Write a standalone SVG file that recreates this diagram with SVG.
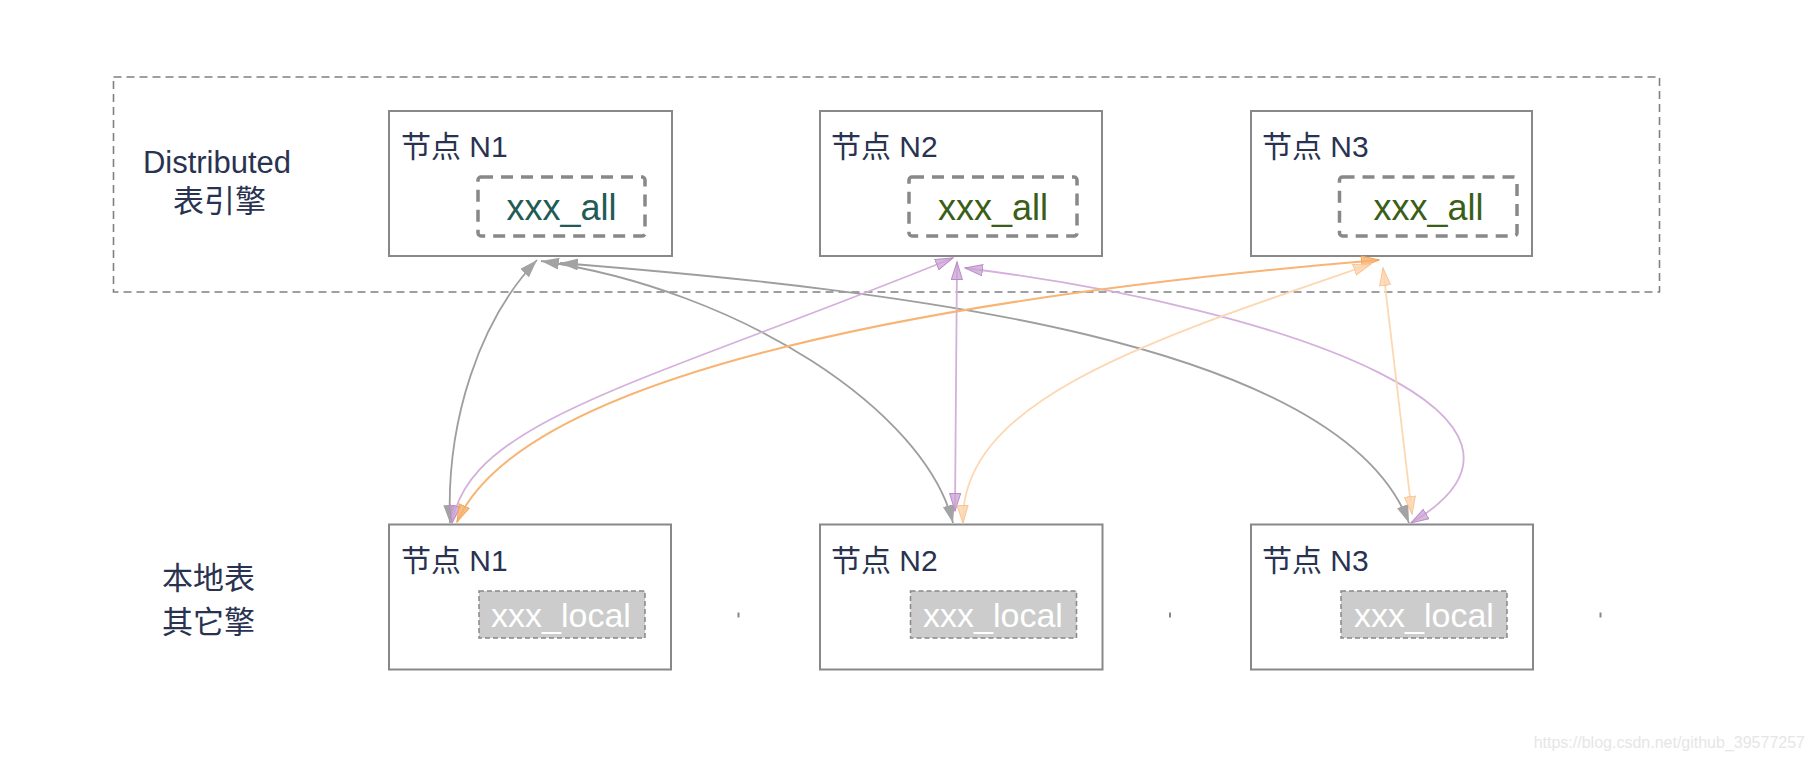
<svg xmlns="http://www.w3.org/2000/svg" width="1816" height="762" viewBox="0 0 1816 762">
  <style>
    .bg { fill: #ffffff; }
    .frame { fill: none; stroke: #808080; stroke-width: 1.6; stroke-dasharray: 8 5; }
    .node { fill: #ffffff; stroke: #888888; stroke-width: 2; }
    .allbox { fill: none; stroke: #888888; stroke-width: 3.5; stroke-dasharray: 12 8; }
    .localbox { fill: #cccccc; stroke: #888888; stroke-width: 1.5; stroke-dasharray: 5 3; }
    .lbl { font-family: "Liberation Sans", "Noto Sans CJK SC", sans-serif; fill: #293351; }
    .title { font-size: 30px; }
    .side { font-size: 31px; }
    .all { font-family: "Liberation Sans", sans-serif; font-size: 36px; text-anchor: middle; }
    .local { font-family: "Liberation Sans", sans-serif; font-size: 34px; fill: #ffffff; text-anchor: middle; }
    .tick { stroke: #888888; stroke-width: 2; }
    .c-gray { fill: none; stroke: #9e9e9e; stroke-width: 1.8; marker-start: url(#mg); marker-end: url(#mg); }
    .c-purple { fill: none; stroke: #d5b0dc; stroke-width: 1.8; marker-start: url(#mp); marker-end: url(#mp); }
    .c-orange { fill: none; stroke: #f7b474; stroke-width: 2; marker-start: url(#mo); marker-end: url(#mo); }
    .c-lorange { fill: none; stroke: #fdd7b2; stroke-width: 1.8; marker-start: url(#ml); marker-end: url(#ml); }
    .wm { font-family: "Liberation Sans", sans-serif; font-size: 16px; fill: #e6e6e6; text-anchor: end; }
  </style>
  <defs>
    <marker id="mg" markerUnits="userSpaceOnUse" markerWidth="20" markerHeight="14" refX="18" refY="6" orient="auto-start-reverse">
      <path d="M0,0 L18,6 L0,12 z" fill="#a3a3a3"/>
    </marker>
    <marker id="mp" markerUnits="userSpaceOnUse" markerWidth="20" markerHeight="14" refX="18" refY="6" orient="auto-start-reverse">
      <path d="M0.5,0.5 L18,6 L0.5,11.5 z" fill="#c9a2d4" fill-opacity="0.75" stroke="#b98cc6" stroke-width="1"/>
    </marker>
    <marker id="mo" markerUnits="userSpaceOnUse" markerWidth="20" markerHeight="14" refX="18" refY="6" orient="auto-start-reverse">
      <path d="M0.5,0.5 L18,6 L0.5,11.5 z" fill="#f6b06a" fill-opacity="0.8" stroke="#f3a55a" stroke-width="1"/>
    </marker>
    <marker id="ml" markerUnits="userSpaceOnUse" markerWidth="20" markerHeight="14" refX="18" refY="6" orient="auto-start-reverse">
      <path d="M0.5,0.5 L18,6 L0.5,11.5 z" fill="#fcd6b0" fill-opacity="0.85" stroke="#f9c493" stroke-width="1"/>
    </marker>
  </defs>
  <rect class="bg" x="0" y="0" width="1816" height="762"/>

  <g id="distributed-frame">
    <rect class="frame" x="113.5" y="77" width="1546" height="215"/>
    <text class="lbl side" x="217" y="173" text-anchor="middle">Distributed</text>
    <text class="lbl side" x="219.5" y="212" text-anchor="middle">表引擎</text>
  </g>

  <g id="local-label">
    <text class="lbl side" x="162" y="589">本地表</text>
    <text class="lbl side" x="162" y="633">其它擎</text>
  </g>

  <g id="top-n1">
    <rect class="node" x="389" y="111" width="283" height="145"/>
    <text class="lbl title" x="401" y="157">节点 N1</text>
    <rect class="allbox" x="478" y="177" width="167" height="59" rx="3"/>
    <text class="all" x="561.5" y="220" fill="#225a55">xxx_all</text>
  </g>
  <g id="top-n2">
    <rect class="node" x="820" y="111" width="282" height="145"/>
    <text class="lbl title" x="831" y="157">节点 N2</text>
    <rect class="allbox" x="909" y="177" width="168" height="59" rx="3"/>
    <text class="all" x="993" y="220" fill="#3a5e17">xxx_all</text>
  </g>
  <g id="top-n3">
    <rect class="node" x="1251" y="111" width="281" height="145"/>
    <text class="lbl title" x="1262" y="157">节点 N3</text>
    <rect class="allbox" x="1339.5" y="177" width="177.5" height="59" rx="3"/>
    <text class="all" x="1428.5" y="220" fill="#3a5e17">xxx_all</text>
  </g>

  <g id="bottom-n1">
    <rect class="node" x="389" y="524.5" width="282" height="145"/>
    <text class="lbl title" x="401" y="571">节点 N1</text>
    <rect class="localbox" x="479" y="591" width="166" height="47"/>
    <text class="local" x="561" y="627">xxx_local</text>
    <line class="tick" x1="738.5" y1="612.5" x2="738.5" y2="617.5"/>
  </g>
  <g id="bottom-n2">
    <rect class="node" x="820" y="524.5" width="282.5" height="145"/>
    <text class="lbl title" x="831" y="571">节点 N2</text>
    <rect class="localbox" x="910.5" y="591" width="166" height="47"/>
    <text class="local" x="993" y="627">xxx_local</text>
    <line class="tick" x1="1170" y1="612.5" x2="1170" y2="617.5"/>
  </g>
  <g id="bottom-n3">
    <rect class="node" x="1251" y="524.5" width="282" height="145"/>
    <text class="lbl title" x="1262" y="571">节点 N3</text>
    <rect class="localbox" x="1341" y="591" width="166" height="47"/>
    <text class="local" x="1424" y="627">xxx_local</text>
    <line class="tick" x1="1600.5" y1="612.5" x2="1600.5" y2="617.5"/>
  </g>

  <g id="connectors">
    <path class="c-gray" d="M450,523 C446,420 480,320 537,260"/>
    <path class="c-gray" d="M541,261 C740,290 925,410 953,523"/>
    <path class="c-gray" d="M560,263 C900,290 1340,340 1409,523"/>
    <path class="c-purple" d="M953,258 C640,385 470,420 452,523"/>
    <path class="c-purple" d="M957,262 L955,511"/>
    <path class="c-purple" d="M965,268 C1300,310 1585,420 1411,523"/>
    <path class="c-orange" d="M1379,260 C900,300 520,380 457,522"/>
    <path class="c-lorange" d="M1371,264 C1150,340 960,400 963,523"/>
    <path class="c-lorange" d="M1383,268 L1412,514"/>
  </g>

  <text class="wm" x="1805" y="748">https://blog.csdn.net/github_39577257</text>
</svg>
